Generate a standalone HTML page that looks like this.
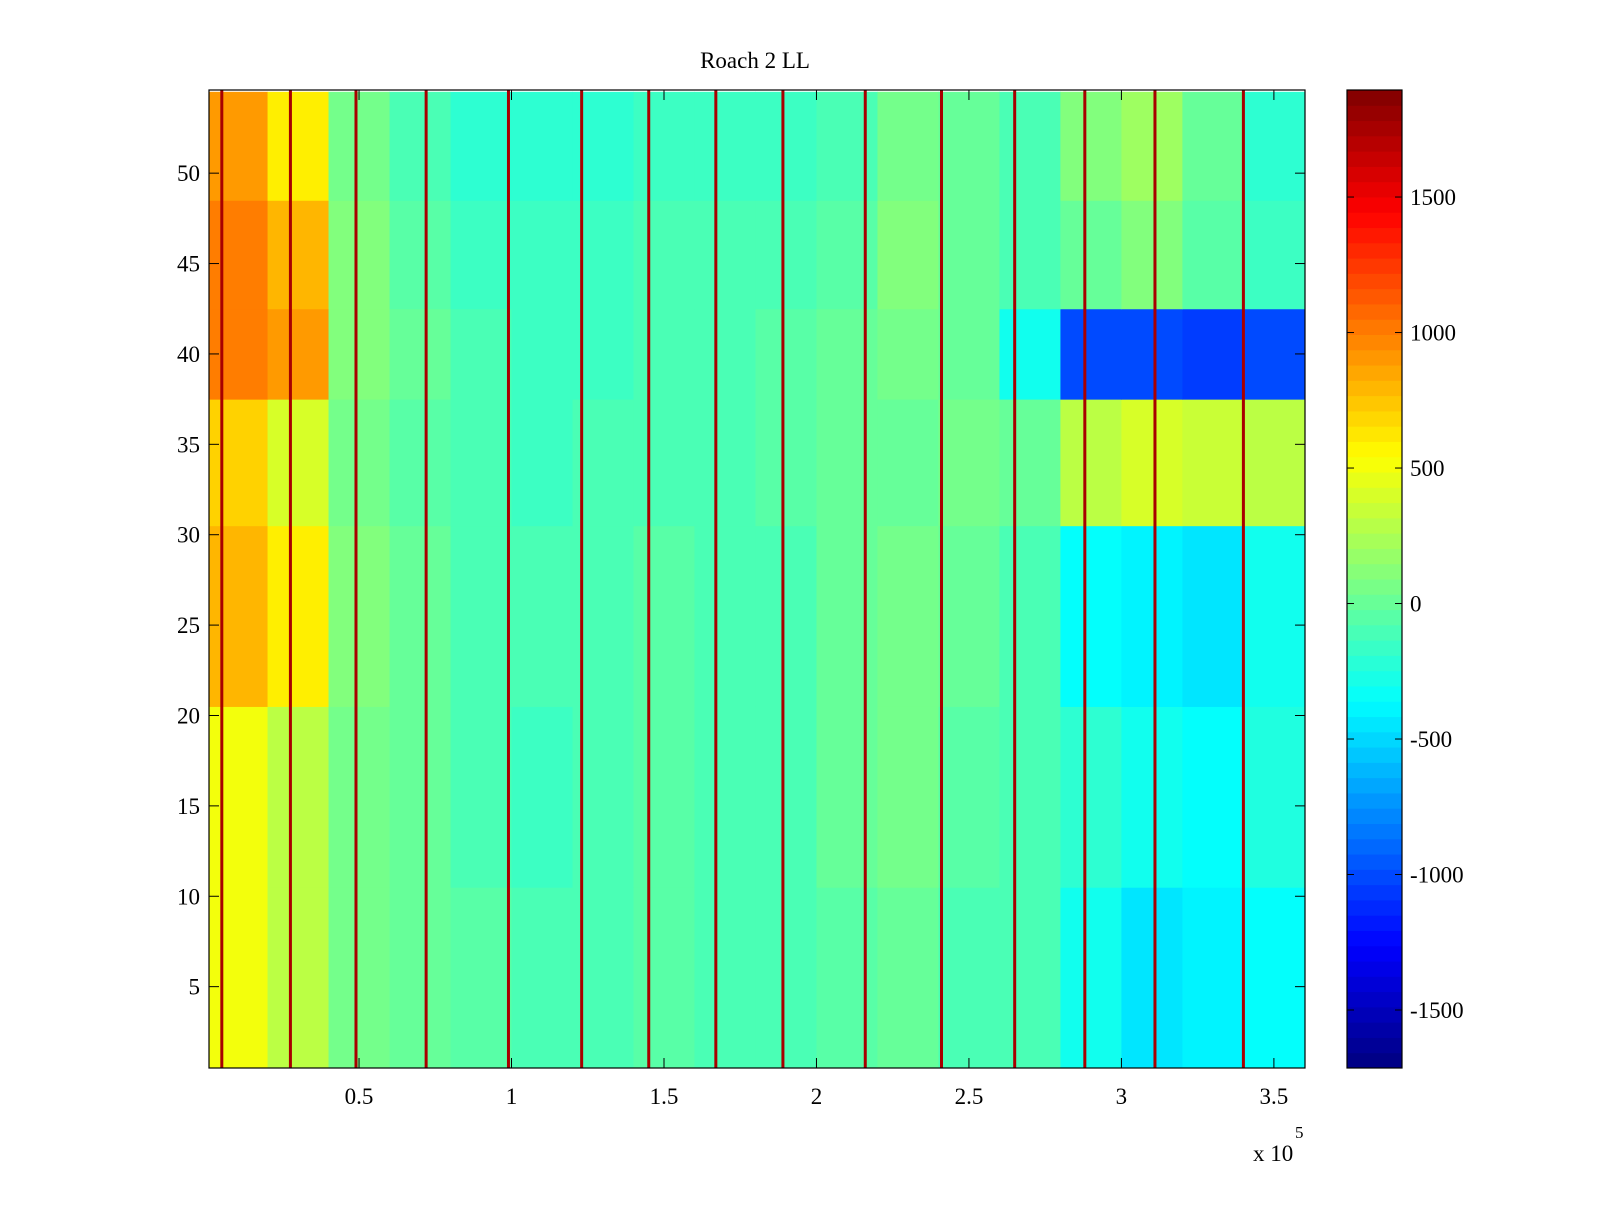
<!DOCTYPE html>
<html><head><meta charset="utf-8"><style>
html,body{margin:0;padding:0;background:#fff;}
svg text{font-family:"Liberation Serif",serif;font-size:23px;fill:#000;}
</style></head><body>
<svg id="chart" width="1600" height="1200" xmlns="http://www.w3.org/2000/svg">
<text x="755" y="68" text-anchor="middle">Roach 2 LL</text>
<g id="cells"></g>
<g id="lines"></g>
<rect x="209" y="90" width="1096" height="978" fill="none" stroke="#000" stroke-width="1.2"/>
<g id="xaxis"></g>
<g id="yaxis"></g>
<text x="1253" y="1161">x 10</text>
<text x="1295" y="1138" style="font-size:17px">5</text>
<g id="cbar"></g>
</svg>
<script>
const colEdges=[0,20000,40000,60000,80000,100000,120000,140000,160000,180000,200000,220000,240000,260000,280000,300000,320000,340000,360700];
const rowGroups=[[0.5,10.5],[10.5,20.5],[20.5,30.5],[30.5,37.5],[37.5,42.5],[42.5,48.5],[48.5,54.5]];
const g1=[500,300,50,0,-50,-100,-100,-50,-100,-100,-50,0,-100,-100,-300,-450,-400,-350];
const g2=[500,300,50,0,-100,-150,-100,-50,-100,-100,0,50,-50,-100,-200,-300,-350,-250];
const g3=[800,600,100,0,-100,-100,-100,-50,-100,-100,0,50,0,-100,-350,-400,-450,-300];
const g4=[700,400,50,-50,-100,-150,-100,-100,-100,-50,0,0,50,0,300,400,350,300];
const g5=[1000,900,100,0,-100,-150,-150,-100,-100,-50,0,50,0,-300,-1000,-1000,-1050,-1000];
const g6=[1000,800,100,-50,-150,-150,-150,-100,-100,-100,-50,100,0,-100,0,100,-50,-150];
const g7=[900,600,50,-100,-200,-200,-200,-150,-150,-150,-100,50,0,-100,100,200,0,-200];
const groupValues=[g1,g2,g3,g4,g5,g6,g7];
const spikeX=[5000,27500,49000,72000,99000,123000,145000,167000,189000,216000,241000,265000,288000,311000,340000];
const spikeVal=1750;
const xTicks=[0.5,1,1.5,2,2.5,3,3.5];
const yTicks=[5,10,15,20,25,30,35,40,45,50];
const cbTicks=[-1500,-1000,-500,0,500,1000,1500];
const X0=209,X1=1305,Y0=90,Y1=1068,xmin=800,xmax=360200,ymin=0.5,ymax=54.6,cmin=-1714,cmax=1895;
const sx=v=>X0+(v-xmin)/(xmax-xmin)*(X1-X0);
const sy=v=>Y1-(v-ymin)/(ymax-ymin)*(Y1-Y0);
function jet(v){let t=(v-cmin)/(cmax-cmin);t=Math.max(0,Math.min(1,t));
 const f=x=>Math.max(0,Math.min(1,1.5-Math.abs(4*t-x)));
 return `rgb(${Math.round(255*f(3))},${Math.round(255*f(2))},${Math.round(255*f(1))})`;}
const NS="http://www.w3.org/2000/svg";
function mk(tag,attrs,parent){const e=document.createElementNS(NS,tag);for(const k in attrs)e.setAttribute(k,attrs[k]);parent.appendChild(e);return e;}
const cells=document.getElementById('cells');
groupValues.forEach((arr,gi)=>{const [r0,r1]=rowGroups[gi];
 arr.forEach((v,ci)=>{const a=Math.max(sx(colEdges[ci]),X0),b=Math.min(sx(colEdges[ci+1]),X1);
  const r=mk('rect',{x:a,y:sy(r1),width:b-a+0.5,height:sy(r0)-sy(r1)+0.5,fill:jet(v)},cells);
  
  });});
const lines=document.getElementById('lines');
spikeX.forEach(x=>{const r=mk('rect',{x:sx(x)-1.5,y:Y0,width:3,height:Y1-Y0,fill:jet(spikeVal)},lines);
 
 });
const xa=document.getElementById('xaxis');
xTicks.forEach(t=>{const x=sx(t*1e5);
 mk('line',{x1:x,x2:x,y1:Y1,y2:Y1-10,stroke:'#000'},xa);mk('line',{x1:x,x2:x,y1:Y0,y2:Y0+10,stroke:'#000'},xa);
 const tx=mk('text',{x:x,y:1104,'text-anchor':'middle'},xa);tx.textContent=String(t);
 
 });
const ya=document.getElementById('yaxis');
yTicks.forEach(t=>{const y=sy(t);
 mk('line',{x1:X0,x2:X0+10,y1:y,y2:y,stroke:'#000'},ya);mk('line',{x1:X1,x2:X1-10,y1:y,y2:y,stroke:'#000'},ya);
 const tx=mk('text',{x:X0-9,y:y+8,'text-anchor':'end'},ya);tx.textContent=String(t);
 
 });
const cb=document.getElementById('cbar');const CX=1347,CW=55;
const cy=v=>Y1-(v-cmin)/(cmax-cmin)*(Y1-Y0);
for(let i=0;i<64;i++){const v0=cmin+(cmax-cmin)*i/64,v1=cmin+(cmax-cmin)*(i+1)/64;
 const r=mk('rect',{x:CX,y:cy(v1),width:CW,height:cy(v0)-cy(v1)+0.5,fill:jet((v0+v1)/2)},cb);
 
 }
mk('rect',{x:CX,y:Y0,width:CW,height:Y1-Y0,fill:'none',stroke:'#000','stroke-width':1.2},cb);
cbTicks.forEach(t=>{const y=cy(t);
 mk('line',{x1:CX,x2:CX+7,y1:y,y2:y,stroke:'#000'},cb);mk('line',{x1:CX+CW,x2:CX+CW-7,y1:y,y2:y,stroke:'#000'},cb);
 const tx=mk('text',{x:CX+CW+8,y:y+8},cb);tx.textContent=String(t);
 
 });
</script>
</body></html>
